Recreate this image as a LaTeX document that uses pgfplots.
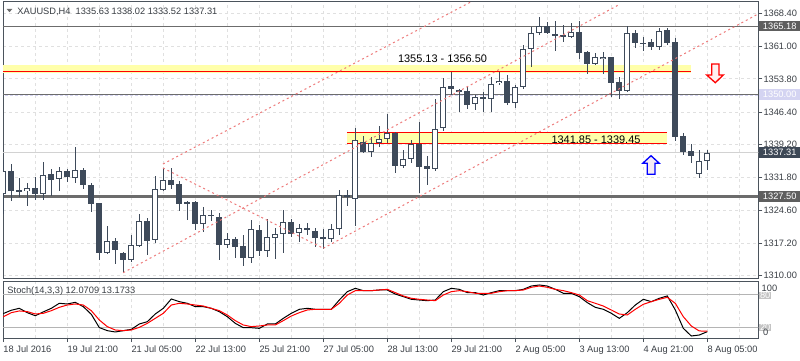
\documentclass[border=0pt]{standalone}
\usepackage{pgfplots}
\pgfplotsset{compat=1.18}
\usepackage{pgfplotstable}
\usepackage{fontspec}
\setmainfont{Liberation Sans}
\definecolor{candle}{HTML}{3E4A5A}
\definecolor{frame}{HTML}{4B535C}
\definecolor{txt}{HTML}{3A3F45}
\definecolor{gridc}{HTML}{E0E0E0}
\definecolor{chan}{HTML}{EE7B7B}
\definecolor{band}{HTML}{FFFFAA}
\definecolor{lav}{HTML}{D4D4F2}
\definecolor{lvl}{HTML}{B4B4B4}
\definecolor{hline}{HTML}{6C6C6C}
\definecolor{tagdark}{HTML}{5E5E5E}
\definecolor{tagbid}{HTML}{3D4856}

\pgfplotstableread{
k o h l c
0 1328.12 1335.75 1323.67 1333.30
1 1333.30 1334.86 1326.69 1328.92
2 1329.07 1331.68 1327.58 1328.70
3 1328.78 1330.70 1325.58 1329.45
4 1329.45 1331.90 1326.85 1328.12
5 1328.12 1335.24 1326.91 1332.35
6 1332.57 1333.68 1327.74 1331.37
7 1331.45 1334.13 1328.92 1333.24
8 1333.24 1333.68 1330.92 1332.03
9 1331.81 1338.58 1330.70 1333.46
10 1333.46 1333.90 1329.36 1330.12
11 1330.12 1330.70 1324.24 1326.02
12 1326.18 1326.30 1313.56 1315.12
13 1315.12 1321.06 1314.90 1317.66
14 1317.66 1318.39 1312.67 1315.79
15 1315.05 1315.27 1310.67 1313.56
16 1313.43 1318.99 1313.12 1316.77
17 1316.54 1323.73 1316.32 1322.11
18 1322.17 1322.78 1314.61 1317.79
19 1317.88 1332.19 1317.34 1329.23
20 1329.14 1333.97 1328.85 1331.23
21 1331.23 1333.97 1329.36 1330.25
22 1330.34 1331.01 1324.47 1326.02
23 1326.40 1326.60 1322.33 1326.11
24 1326.40 1326.69 1320.17 1321.44
25 1321.57 1325.22 1319.79 1323.44
26 1323.44 1324.62 1322.24 1323.50
27 1323.00 1324.02 1313.49 1316.90
28 1316.90 1319.44 1316.23 1318.10
29 1318.17 1318.55 1314.01 1316.45
30 1316.54 1318.99 1312.23 1313.87
31 1313.94 1322.40 1312.89 1320.33
32 1320.17 1321.28 1314.38 1315.56
33 1315.56 1322.55 1314.23 1318.55
34 1318.46 1320.55 1313.78 1319.21
35 1319.21 1324.62 1315.12 1321.88
36 1321.88 1322.62 1318.68 1319.35
37 1319.44 1321.44 1317.57 1320.55
38 1320.55 1321.66 1319.06 1320.24
39 1319.95 1320.55 1316.45 1318.46
40 1318.61 1320.46 1315.88 1318.10
41 1318.10 1321.44 1317.57 1320.33
42 1320.33 1329.07 1319.06 1327.89
43 1327.89 1329.07 1325.51 1327.45
44 1327.14 1342.94 1321.06 1340.13
45 1339.69 1341.09 1337.24 1337.60
46 1337.60 1340.94 1336.48 1339.47
47 1339.47 1343.32 1338.71 1340.36
48 1340.36 1345.99 1339.47 1341.83
49 1341.83 1342.10 1332.79 1334.48
50 1334.48 1337.98 1334.04 1335.91
51 1335.91 1340.20 1335.02 1339.24
52 1339.24 1344.27 1328.47 1334.26
53 1334.41 1336.64 1330.19 1333.81
54 1333.81 1349.26 1333.37 1342.58
55 1342.81 1354.07 1342.27 1352.06
56 1352.22 1355.40 1350.22 1351.62
57 1351.33 1351.50 1346.50 1350.95
58 1351.17 1351.93 1347.10 1347.99
59 1348.15 1350.22 1346.88 1349.70
60 1349.70 1350.95 1346.50 1349.26
61 1349.26 1354.29 1346.50 1352.60
62 1352.82 1355.40 1352.44 1353.33
63 1353.33 1354.67 1347.99 1348.37
64 1348.37 1352.44 1347.26 1352.06
65 1352.06 1361.34 1351.49 1360.39
66 1360.39 1365.42 1356.51 1363.95
67 1363.95 1367.64 1363.57 1365.57
68 1365.57 1366.50 1363.80 1363.95
69 1363.79 1366.60 1360.00 1363.41
70 1363.60 1365.80 1362.08 1363.20
71 1363.19 1366.17 1362.97 1364.24
72 1364.24 1366.60 1358.20 1359.63
73 1359.85 1360.08 1355.00 1357.12
74 1357.12 1359.50 1356.89 1358.61
75 1358.16 1359.85 1354.90 1358.61
76 1358.61 1358.74 1349.80 1352.95
77 1353.18 1354.29 1349.33 1351.17
78 1351.17 1365.57 1350.95 1363.95
79 1363.95 1364.68 1360.74 1361.72
80 1361.86 1363.06 1360.08 1361.50
81 1362.08 1362.61 1360.23 1360.83
82 1360.97 1365.06 1360.23 1364.53
83 1364.68 1365.06 1361.34 1361.72
84 1361.95 1362.84 1340.05 1340.94
85 1341.16 1341.69 1336.86 1337.46
86 1337.75 1339.31 1335.02 1336.71
87 1332.57 1337.98 1331.68 1335.59
88 1335.63 1338.02 1333.52 1337.31
}\candles

\pgfplotstableread{
k main sig
0 45 39.3
1 51 46.6
2 54.5 49.7
3 46.6 48.5
4 41 44.2
5 48 45.4
6 54.5 50.2
7 63.6 56.3
8 62.4 60.5
9 65.4 62.4
10 57.5 60.5
11 43.6 50.2
12 19.5 33.3
13 13.9 21.2
14 11.5 15.1
15 13.9 13.9
16 16.3 15.1
17 26 19.9
18 30.2 27.2
19 44.2 36.3
20 54.5 45.4
21 71.5 60.5
22 66.6 63.6
23 63.6 62.4
24 57.5 60.5
25 57.5 58.7
26 54.5 54.5
27 48.4 50.2
28 39.3 42.4
29 27.2 32.1
30 19.3 24.2
31 19.3 21.2
32 18.1 22.4
33 26 24.2
34 26 24.2
35 36.3 32.1
36 45.4 40.5
37 52.7 46.6
38 54.5 51.5
39 52.7 52.7
40 52.7 52.7
41 52.7 52.7
42 69.6 63.6
43 84.8 78.7
44 90.8 86.6
45 86.6 86.6
46 86.6 86.6
47 87.8 87.8
48 87.8 89
49 80.5 83
50 75.7 77
51 70.9 72.7
52 69.6 70.9
53 68.4 69.6
54 69.6 68.4
55 84.8 78.7
56 90.8 84.8
57 89 86.6
58 83 84.8
59 83 81.8
60 78.7 81.8
61 83 81.8
62 86.6 84.8
63 86.6 86.6
64 86.6 86.6
65 89 87.8
66 95 92.7
67 96.9 95
68 95 92.7
69 89 89
70 81.8 86.6
71 81.8 83
72 75.7 78.7
73 64.8 68.4
74 56.3 63.6
75 52.7 58.7
76 45.4 51.5
77 36.3 44.2
78 46.6 42.4
79 60.5 52.7
80 70.9 61.8
81 66.6 66.6
82 72.7 70.9
83 77 74.5
84 51.5 63.6
85 18.1 39.3
86 4.2 22.4
87 6 13.3
88 12.07 13.17
}\stoch

\begin{document}
\begin{tikzpicture}[x=1bp,y=1bp]
\useasboundingbox (0,0) rectangle (800,360);
\fill[white] (0,0) rectangle (800,360);

% ---------- main price panel ----------
\begin{axis}[
  at={(3bp,82bp)}, anchor=south west,
  scale only axis, width=755.3bp, height=276bp,
  xmin=-0.0375, xmax=94.375, ymin=1309.488, ymax=1370.914,
  axis line style={frame, line width=1bp},
  xtick={4,8,...,92}, xticklabels={}, xtick style={draw=none},
  ytick={1310,1317.2,1324.6,1331.8,1339.2,1346.4,1353.8,1361,1368.4},
  ytick pos=right, yticklabel pos=right, tick align=outside,
  major tick length=4bp, ytick style={frame, line width=1bp},
  scaled y ticks=false,
  /pgf/number format/assume math mode=true,
  yticklabel style={font=\fontsize{9.3}{11}\selectfont, text=txt, anchor=west, inner sep=0pt, xshift=1bp,
    /pgf/number format/fixed, /pgf/number format/fixed zerofill,
    /pgf/number format/precision=2, /pgf/number format/1000 sep={}},
  xmajorgrids, ymajorgrids,
  grid style={gridc, dash pattern=on 3bp off 3bp, line width=0.8bp},
]
% zones (background)
\fill[band] (axis cs:-0.0375,1355.18) rectangle (axis cs:85.96,1356.90);
\draw[red, line width=1.4bp] (axis cs:-0.0375,1355.40) -- (axis cs:85.96,1355.40);
\fill[band] (axis cs:42.96,1339.47) rectangle (axis cs:82.96,1341.92);
\draw[red, line width=1.2bp] (axis cs:42.96,1341.92) -- (axis cs:82.96,1341.92);
\draw[red, line width=1.2bp] (axis cs:42.96,1339.47) -- (axis cs:82.96,1339.47);
% horizontal levels
\draw[hline, line width=1bp] (axis cs:-1,1365.57) -- (axis cs:95,1365.57);
\draw[lav, line width=1bp, dash pattern=on 3bp off 2bp] (axis cs:-1,1350.06) -- (axis cs:95,1350.06);
\draw[hline, line width=1bp] (axis cs:-1,1350.37) -- (axis cs:95,1350.37);
\draw[hline, line width=2.6bp] (axis cs:-1,1327.58) -- (axis cs:95,1327.58);
\draw[gray!35, line width=0.8bp] (axis cs:-1,1337.46) -- (axis cs:95,1337.46);

% wicks
\addplot[draw=none, mark=none, error bars/.cd, y dir=both, y explicit, error mark=none,
  error bar style={draw=candle, line width=1bp}]
  table[x=k, y expr={(\thisrow{h}+\thisrow{l})/2}, y error expr={(\thisrow{h}-\thisrow{l})/2}] {\candles};
% bodies
\addplot[draw=none, mark=none, error bars/.cd, y dir=both, y explicit, error mark=none,
  error bar style={draw=candle, line width=6bp}]
  table[x=k, y expr={(\thisrow{o}+\thisrow{c})/2}, y error expr={max(abs(\thisrow{c}-\thisrow{o})/2,0.12)}] {\candles};
% hollow interior of bullish candles
\addplot[draw=none, mark=none, error bars/.cd, y dir=both, y explicit, error mark=none,
  error bar style={draw=white, line width=4bp}]
  table[x=k, y expr={(\thisrow{o}+\thisrow{c})/2}, y error expr={max((\thisrow{c}-\thisrow{o})/2-0.2226,0)}] {\candles};

% channel lines
\draw[chan, line width=1bp, dash pattern=on 2bp off 3bp] (axis cs:19.96,1334.86) -- (axis cs:58.43,1370.91);
\draw[chan, line width=1bp, dash pattern=on 2bp off 3bp] (axis cs:19.96,1333.97) -- (axis cs:40.0,1316.10);
\draw[chan, line width=1bp, dash pattern=on 2bp off 3bp] (axis cs:15.0,1310.67) -- (axis cs:76.9,1370.25);
\draw[chan, line width=1bp, dash pattern=on 2bp off 3bp] (axis cs:40.0,1316.10) -- (axis cs:94.34,1368.24);
\end{axis}

% ---------- stochastic panel ----------
\begin{axis}[
  at={(3bp,22bp)}, anchor=south west,
  scale only axis, width=755.3bp, height=56.7bp,
  xmin=-0.0375, xmax=94.375, ymin=0.545, ymax=103.6,
  axis line style={frame, line width=1bp},
  xtick={0,8,...,88},
  xticklabels={18 Jul 2016,19 Jul 21:00,21 Jul 05:00,22 Jul 13:00,25 Jul 21:00,27 Jul 05:00,28 Jul 13:00,29 Jul 21:00,2 Aug 05:00,3 Aug 13:00,4 Aug 21:00,8 Aug 05:00},
  minor xtick={4,12,...,92},
  xtick pos=bottom, tick align=outside, major tick length=4bp, minor tick length=0pt,
  xtick style={frame, line width=1bp},
  xticklabel style={font=\fontsize{9.3}{11}\selectfont, text=txt, anchor=base west, inner sep=0pt, yshift=-10.6bp},
  ytick=\empty,
  xmajorgrids, xminorgrids,
  grid style={gridc, dash pattern=on 3bp off 3bp, line width=0.8bp},
]
\draw[lvl, line width=1bp] (axis cs:-1,80) -- (axis cs:95,80);
\draw[lvl, line width=1bp] (axis cs:-1,20) -- (axis cs:95,20);
\addplot[black, line width=1bp, mark=none] table[x=k, y=main] {\stoch};
\addplot[red, line width=1bp, mark=none] table[x=k, y=sig] {\stoch};
\end{axis}

% ---------- texts and tags ----------
\fill[hline] (6.7,351) -- (12.3,351) -- (9.5,347.8) -- cycle;
\node[anchor=base west, inner sep=0pt, text=txt, font=\fontsize{9.3}{11}\selectfont] at (17.3,345.7) {XAUUSD,H4\ \ 1335.63 1338.02 1333.52 1337.31};
\node[anchor=base west, inner sep=0pt, text=txt, font=\fontsize{9.3}{11}\selectfont] at (7.3,66.4) {Stoch(14,3,3) 12.0709 13.1733};

\node[anchor=base, inner sep=0pt, font=\fontsize{11}{13}\selectfont] at (442.5,297.1) {1355.13 - 1356.50};
\node[anchor=base, inner sep=0pt, font=\fontsize{11}{13}\selectfont] at (596,216.8) {1341.85 - 1339.45};

% price tags
\node[anchor=west, fill=tagdark, text=white, inner sep=0pt, minimum width=41bp, minimum height=10.5bp, font=\fontsize{9.3}{11}\selectfont] at (759,334) {1365.18};
\node[anchor=west, fill=lav, text=white, inner sep=0pt, minimum width=41bp, minimum height=11bp, font=\fontsize{9.3}{11}\selectfont] at (759,265.3) {1350.00};
\node[anchor=west, fill=tagbid, text=white, inner sep=0pt, minimum width=41bp, minimum height=10.5bp, font=\fontsize{9.3}{11}\selectfont] at (759,207.7) {1337.31};
\node[anchor=west, fill=tagdark, text=white, inner sep=0pt, minimum width=41bp, minimum height=10.5bp, font=\fontsize{9.3}{11}\selectfont] at (759,163.3) {1327.50};

% stoch scale labels
\node[anchor=west, fill=lvl!80, text=white, inner sep=0pt, minimum width=12bp, minimum height=7bp, font=\fontsize{9.3}{11}\selectfont] at (759,64.3) {80};
\node[anchor=west, fill=lvl!80, text=white, inner sep=0pt, minimum width=12bp, minimum height=7bp, font=\fontsize{9.3}{11}\selectfont] at (759,32.8) {20};
\node[anchor=west, inner sep=0pt, text=txt, font=\fontsize{9.3}{11}\selectfont] at (761.5,72) {100};
\node[anchor=west, inner sep=0pt, text=txt, font=\fontsize{9.3}{11}\selectfont] at (763,27.3) {0};

% arrows
\filldraw[draw=red, fill=red!6, line width=1.3bp, line join=miter]
  (711.7,296) -- (719,296) -- (719,285) -- (723.3,285) -- (715.3,277.3) -- (706.7,285) -- (711.7,285) -- cycle;
\filldraw[draw=blue, fill=violet!8, line width=1.3bp, line join=miter]
  (647.3,185.7) -- (655,185.7) -- (655,196.7) -- (659.3,196.7) -- (651,204.3) -- (642.7,196.7) -- (647.3,196.7) -- cycle;
\end{tikzpicture}
\end{document}
